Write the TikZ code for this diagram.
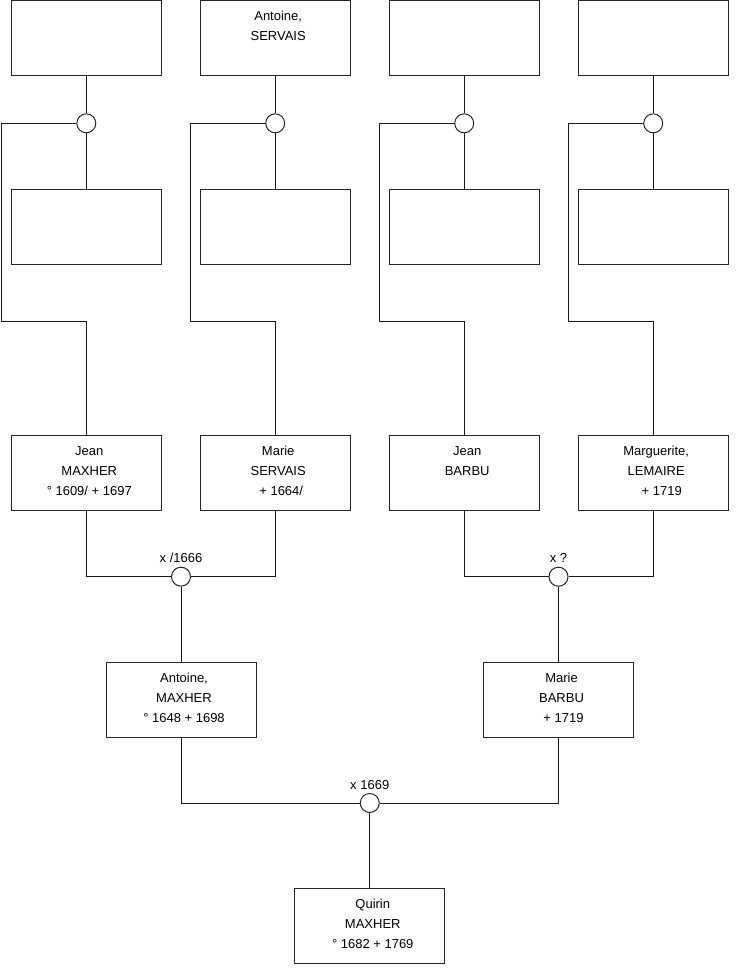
\documentclass[tikz,border=0pt]{standalone}
\usepackage{fontspec}
\setmainfont{Liberation Sans}
\usetikzlibrary{positioning, calc}

% box contents: text at the top of a 150 x 75 area
\newcommand{\pers}[1]{\begin{minipage}[c][75pt][t]{150pt}\centering\advance\leftskip 6pt\rule{0pt}{20pt}#1\end{minipage}}

\begin{document}
\begin{tikzpicture}[
        x=1pt, y=-1pt,
        font=\fontsize{13}{20}\selectfont,
        line width=1pt,
        person/.style={draw=black!85, fill=white, inner sep=0pt, outer sep=0pt},
        union/.style={circle, draw=black!85, fill=white, minimum size=19pt, inner sep=0pt},
        link/.style={draw=black!90}
    ]

        \useasboundingbox (0,0) rectangle (740,975);

        % Great-grandparents
        \node[person] (ggf1) at (86.3,38) {\pers{}};
        \node[person] (ggf2) at (275.2,38) {\pers{Antoine,\\SERVAIS}};
        \node[person] (ggf3) at (464.2,38) {\pers{}};
        \node[person] (ggf4) at (653.2,38) {\pers{}};

        \node[person] (ggm1) at (86.3,227) {\pers{}};
        \node[person] (ggm2) at (275.2,227) {\pers{}};
        \node[person] (ggm3) at (464.2,227) {\pers{}};
        \node[person] (ggm4) at (653.2,227) {\pers{}};

        % Unions and bends
        \foreach \i/\c in {1/86.3, 2/275.2, 3/464.2, 4/653.2} {
            \node[union] (u\i) at (\c,123.3) {};
            \coordinate (b\i) at (\c-85,321.7);
        }

        % Grandparents
        \node[person] (gp1) at (86.3,472.7) {\pers{Jean\\MAXHER\\° 1609/ + 1697}};
        \node[person] (gp2) at (275.2,472.7) {\pers{Marie\\SERVAIS\\\hspace*{6pt}+ 1664/}};
        \node[person] (gp3) at (464.2,472.7) {\pers{Jean\\BARBU}};
        \node[person] (gp4) at (653.2,472.7) {\pers{Marguerite,\\LEMAIRE\\\hspace*{11pt}+ 1719}};

        \node[union, label={[anchor=base, yshift=4pt]90:x /1666}] (ug1) at (181,576.7) {};
        \node[union, label={[anchor=base, yshift=4pt]90:x ?}] (ug2) at (558.5,576.7) {};

        % Parents
        \node[person] (pf) at (181,699.5) {\pers{Antoine,\\MAXHER\\° 1648 + 1698}};
        \node[person] (pm) at (558.5,699.5) {\pers{Marie\\BARBU\\\hspace*{4pt}+ 1719}};

        \node[union, label={[anchor=base, yshift=4pt]90:x 1669}] (up) at (369.75,803) {};

        % Child
        \node[person] (child) at (369.75,925.5) {\pers{Quirin\\MAXHER\\° 1682 + 1769}};

        % Connectors
        \foreach \i in {1,...,4} {
            \draw[link] (ggf\i) -- (u\i) -- (ggm\i);
            \draw[link] (u\i.west) -| (b\i) -| (gp\i.north);
        }
        \draw[link] (gp1.south) |- (ug1.west);
        \draw[link] (gp2.south) |- (ug1.east);
        \draw[link] (ug1) -- (pf);
        \draw[link] (gp3.south) |- (ug2.west);
        \draw[link] (gp4.south) |- (ug2.east);
        \draw[link] (ug2) -- (pm);
        \draw[link] (pf.south) |- (up.west);
        \draw[link] (pm.south) |- (up.east);
        \draw[link] (up) -- (child);

    \end{tikzpicture}
\end{document}
